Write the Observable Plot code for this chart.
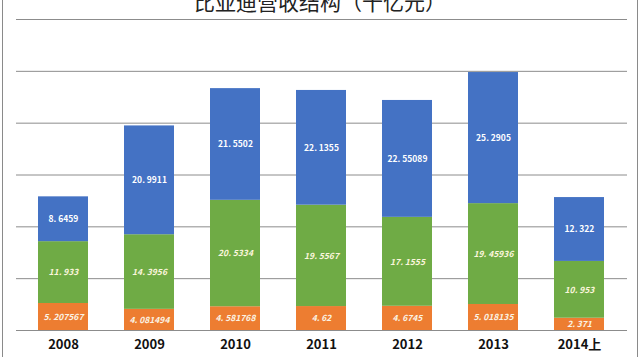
<!DOCTYPE html>
<html>
<head>
<meta charset="utf-8">
<script src="https://cdn.jsdelivr.net/npm/d3@7"></script>
<script src="https://cdn.jsdelivr.net/npm/@observablehq/plot@0.6"></script>
<style>
  html, body { margin: 0; padding: 0; background: #fff; }
  #wrap { position: relative; width: 640px; height: 357px; overflow: hidden; background: #fff; }
  #title { position: absolute; left: 0; width: 640px; top: -9px; text-align: center;
           font-family: "Noto Sans CJK SC", sans-serif; font-size: 21px; line-height: 21px; color: #222; }
  #bl { position: absolute; left: 2px; top: 0; width: 1px; height: 357px; background: #8a8a8a; }
  #br { position: absolute; left: 637px; top: 0; width: 1px; height: 357px; background: #8a8a8a; }
  #chart { position: absolute; left: 0; top: 0; }
</style>
</head>
<body>
<div id="wrap">
  <div id="chart"></div>
  <div id="title">比亚迪营收结构（十亿元）</div>
  <div id="bl"></div>
  <div id="br"></div>
</div>
<script>
const years = ["2008", "2009", "2010", "2011", "2012", "2013", "2014上"];
const seriesNames = ["电池", "手机部件", "汽车"];
const battery = [5.207567, 4.081494, 4.581768, 4.62, 4.6745, 5.018135, 2.371];
const handset = [11.933, 14.3956, 20.5334, 19.5567, 17.1555, 19.45936, 10.953];
const auto = [8.6459, 20.9911, 21.5502, 22.1355, 22.55089, 25.2905, 12.322];
const gridValues = [0, 10, 20, 30, 40, 50, 60];
const colors = ["#ED7D31", "#6FAB45", "#4472C4"];

const seriesValues = [battery, handset, auto];
const rows = [];
years.forEach((yr, i) => {
  seriesValues.forEach((vals, s) => {
    rows.push({year: yr, series: seriesNames[s], value: vals[i],
               label: String(vals[i]).replace(".", ". ")});
  });
});

function labels(name, opts) {
  return Plot.text(rows, Plot.stackY({
    x: "year", y: "value", z: "series", order: seriesNames,
    text: d => d.series === name ? d.label : null,
    fontSize: 8.5, ...opts
  }));
}

const chart = Plot.plot({
  width: 640,
  height: 357,
  marginTop: 19,
  marginBottom: 27,
  marginLeft: 16,
  marginRight: 13,
  x: {domain: years, paddingInner: 0.42, paddingOuter: 0.21, insetLeft: 2, insetRight: 4, label: null},
  y: {domain: [0, 60], axis: null},
  color: {domain: seriesNames, range: colors},
  style: {fontFamily: "'Noto Sans CJK SC', sans-serif", background: "transparent"},
  marks: [
    Plot.ruleY(gridValues, {stroke: "#8c8c8c", strokeWidth: 1}),
    Plot.barY(rows, {x: "year", y: "value", fill: "series", z: "series", order: seriesNames}),
    labels("汽车", {fill: "#ffffff", fontWeight: "bold"}),
    labels("手机部件", {fill: "#fbf6dc", fontStyle: "italic", fontWeight: "bold"}),
    labels("电池", {fill: "#fbf3e4", fontStyle: "italic", fontWeight: "bold"}),
    Plot.axisX({tickSize: 0, tickPadding: 9, fontSize: 13, fontWeight: "bold", fill: "#111", label: null})
  ]
});
document.getElementById("chart").appendChild(chart);
</script>
</body>
</html>
